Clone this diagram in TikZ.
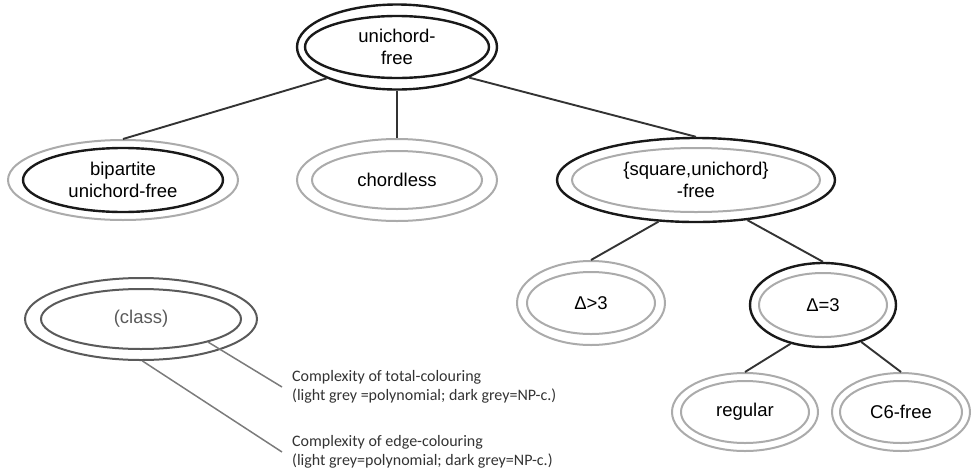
\documentclass[tikz,border=0pt]{standalone}
\usepackage{fontspec}
\setmainfont{Liberation Sans}
\newfontfamily\legfont{Carlito}
\usepackage{tikz}
\usetikzlibrary{shapes.geometric}
\usetikzlibrary{positioning}

\definecolor{lgrey}{HTML}{ABABAB}
\definecolor{dgrey}{HTML}{5A5A5A}
\definecolor{edgegrey}{HTML}{333333}

\tikzset{
  cls/.style={ellipse, draw, inner sep=0pt, line width=2pt,
    font=\fontsize{18.5}{22}\selectfont, align=center},
  npc/.style={draw=black!90, line width=2.4pt},
  poly/.style={draw=lgrey},
  leg/.style={draw=dgrey, text=dgrey},
  tree/.style={draw=edgegrey, line width=1.9pt},
  legline/.style={draw=dgrey!80, line width=1.5pt},
  legtext/.style={anchor=west, align=left, inner xsep=10pt, inner ysep=0pt,
    text=black!80, font=\legfont\fontsize{16}{19.5}\selectfont}
}

\begin{document}
\begin{tikzpicture}[x=1pt, y=-1pt]
      \useasboundingbox (0,0) rectangle (972,472);

      \node [cls, npc, minimum width=200, minimum height=85] (root) at (397,47) {};
      \node [cls, npc, minimum width=184, minimum height=62] (root-in) at (root) {unichord-\\free};

      \node [cls, poly, minimum width=230, minimum height=80] (bip) at (123,180) {};
      \node [cls, npc, minimum width=200, minimum height=64] (bip-in) at (bip) {bipartite\\unichord-free};

      \node [cls, poly, minimum width=200, minimum height=82] (chord) at (397,180) {};
      \node [cls, poly, minimum width=170, minimum height=58] (chord-in) at (chord) {chordless};

      \node [cls, npc, minimum width=278, minimum height=84] (sq) at (696,180) {};
      \node [cls, poly, minimum width=248, minimum height=64] (sq-in) at (sq) {\{square,unichord\}\\-free};

      \node [cls, poly, minimum width=148, minimum height=84] (dgt) at (591,303) {};
      \node [cls, poly, minimum width=128, minimum height=62] (dgt-in) at (dgt) {Δ>3};

      \node [cls, npc, minimum width=146, minimum height=84] (deq) at (823,305) {};
      \node [cls, poly, minimum width=128, minimum height=64] (deq-in) at (deq) {Δ=3};

      \node [cls, poly, minimum width=146, minimum height=78] (reg) at (745,412) {};
      \node [cls, poly, minimum width=128, minimum height=62] (reg-in) at (reg) {regular};

      \node [cls, poly, minimum width=138, minimum height=78] (csix) at (901,412) {};
      \node [cls, poly, minimum width=122, minimum height=62] (csix-in) at (csix) {C6-free};

      \draw [tree] (root.204) -- (bip.north);
      \draw [tree] (root.south) -- (chord.north);
      \draw [tree] (root.337) -- (sq.north);
      \draw [tree] (sq.228) -- (dgt.north);
      \draw [tree] (sq.322) -- (deq.north);
      \draw [tree] (deq.230) -- (reg.north);
      \draw [tree] (deq.316) -- (csix.north);

      \node [cls, leg, minimum width=232, minimum height=82] (class) at (141,319) {};
      \node [cls, leg, minimum width=200, minimum height=60] (class-in) at (class) {(class)};

      \node [legtext] (tot) at (282,387) {Complexity of total-colouring\\(light grey =polynomial; dark grey=NP-c.)};
      \node [legtext] (edg) at (282,452) {Complexity of edge-colouring\\(light grey=polynomial; dark grey=NP-c.)};

      \draw [legline] (class-in.341) -- (tot.west);
      \draw [legline] (class.272) -- (edg.west);
\end{tikzpicture}
\end{document}
